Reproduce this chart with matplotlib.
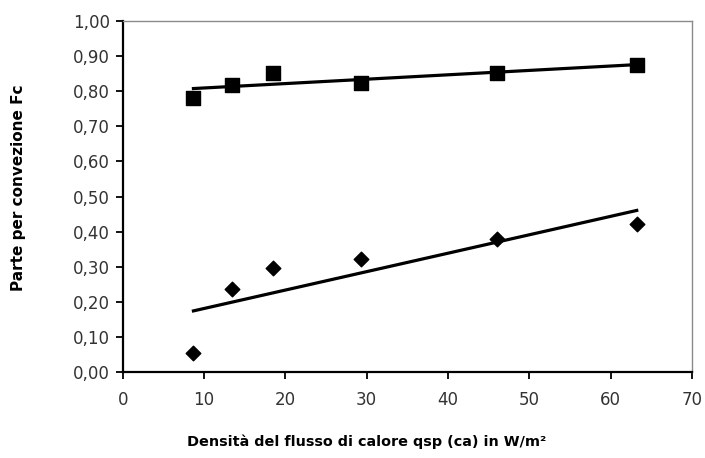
import numpy as np
import matplotlib
matplotlib.use("Agg")
import matplotlib.pyplot as plt
from matplotlib.ticker import FuncFormatter, MultipleLocator

# Data
x_flux = [8.7, 13.4, 18.5, 29.3, 46.0, 63.2]
fc_squares = [0.782, 0.819, 0.853, 0.824, 0.853, 0.874]
fc_diamonds = [0.055, 0.236, 0.296, 0.321, 0.380, 0.423]

x_label = "Densità del flusso di calore qsp (ca) in W/m²"
y_label = "Parte per convezione Fc"

fig = plt.figure(figsize=(7.05, 4.58), dpi=100)
ax = fig.add_axes([0.174, 0.1878, 0.8076, 0.7662])

ax.scatter(x_flux, fc_squares, marker="s", s=90, color="black", zorder=3)
ax.scatter(x_flux, fc_diamonds, marker="D", s=55, color="black", zorder=3)

# linear trendlines (least squares, like Excel)
for ys in (fc_squares, fc_diamonds):
    k, b = np.polyfit(x_flux, ys, 1)
    xs = np.array([min(x_flux), max(x_flux)])
    ax.plot(xs, k * xs + b, color="black", lw=2.3, zorder=2)

ax.set_xlim(0, 70)
ax.set_ylim(0, 1.0)
ax.xaxis.set_major_locator(MultipleLocator(10))
ax.yaxis.set_major_locator(MultipleLocator(0.1))
ax.yaxis.set_major_formatter(FuncFormatter(lambda v, p: f"{v:.2f}".replace(".", ",")))

for s in ("left", "bottom"):
    ax.spines[s].set_color("black")
    ax.spines[s].set_linewidth(1.6)
for s in ("top", "right"):
    ax.spines[s].set_color("#8a8a8a")
    ax.spines[s].set_linewidth(1.0)

ax.tick_params(axis="both", direction="out", length=5, width=1.3, color="black",
               labelcolor="#333333")
ax.tick_params(axis="x", pad=9)
ax.tick_params(axis="y", pad=4)
for lab in ax.get_xticklabels() + ax.get_yticklabels():
    lab.set_fontfamily("DejaVu Sans")
    lab.set_fontsize(12)

ax.set_xlabel(x_label, fontsize=10.4, fontweight="bold", family="DejaVu Sans")
ax.set_ylabel(y_label, fontsize=11, fontweight="bold", family="DejaVu Sans")
ax.xaxis.set_label_coords(0.4276, -0.20)
ax.yaxis.set_label_coords(-0.1835, 0.524)
ax.xaxis.label.set_verticalalignment("center")
ax.yaxis.label.set_verticalalignment("center")

fig.savefig("out.png", dpi=100)
